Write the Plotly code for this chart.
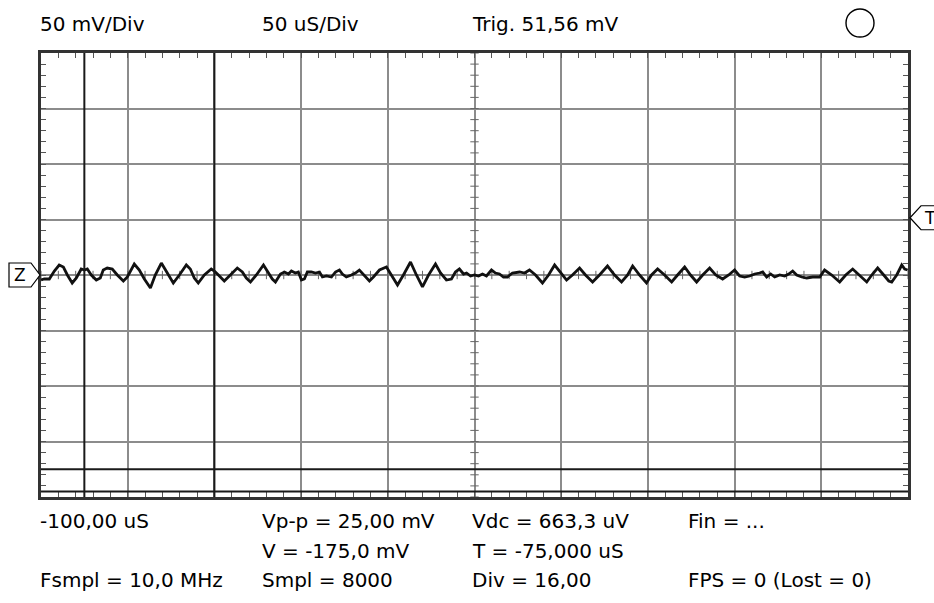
import plotly.graph_objects as go

# Captured waveform: time (µs, 0 = screen centre) and voltage (mV)
time_us = [
    -250.0, -248.1, -245.2, -242.3, -239.5, -237.1, -234.8, -232.0, -229.6, -226.8,
    -225.0, -223.3, -221.0, -218.1, -215.8, -214.1, -211.8, -208.9, -206.0, -202.5,
    -200.2, -196.2, -193.3, -190.4, -186.9, -184.1, -180.6, -177.7, -173.7, -170.2,
    -166.2, -163.9, -161.6, -159.3, -155.8, -151.8, -150.0, -147.7, -144.3, -140.8,
    -136.8, -133.9, -131.6, -129.2, -125.8, -121.7, -119.4, -116.6, -114.8, -111.9,
    -109.6, -107.3, -105.6, -103.3, -101.6, -99.8, -98.1, -96.4, -94.1, -91.7,
    -89.4, -87.7, -85.4, -82.5, -80.2, -77.9, -76.2, -73.9, -71.0, -68.7,
    -66.4, -64.0, -60.6, -58.3, -54.8, -50.8, -47.9, -44.4, -41.0, -36.9,
    -33.5, -30.0, -26.5, -22.5, -19.6, -16.2, -13.3, -11.0, -8.7, -6.3,
    -4.6, -2.3, 0.0, 2.3, 4.6, 6.9, 9.8, 12.1, 14.4, 16.7,
    19.0, 21.9, 26.0, 28.9, 31.7, 35.2, 39.2, 42.7, 46.2, 49.6,
    53.1, 56.5, 60.6, 64.0, 68.1, 72.1, 76.7, 80.8, 84.8, 88.3,
    91.2, 95.2, 99.2, 102.1, 105.6, 109.6, 113.7, 117.1, 121.2, 124.6,
    128.1, 131.6, 135.6, 139.1, 143.1, 146.6, 150.0, 152.9, 155.8, 158.7,
    161.6, 164.4, 166.2, 168.5, 170.8, 173.1, 176.0, 178.9, 181.2, 183.5,
    185.8, 188.7, 191.6, 195.0, 199.1, 201.9, 206.0, 210.6, 214.1, 218.1,
    222.1, 226.2, 229.1, 232.5, 236.0, 238.9, 240.6, 243.5, 246.4, 248.1,
    249.8,
]
volt_mv = [
    -4.5, -3.6, -3.6, 3.6, 9.0, 7.2, 0.0, -7.2, -2.7, 5.4,
    4.5, 5.4, 0.0, -4.5, -2.7, 4.5, 6.3, 5.4, 0.0, -5.4,
    -1.8, 9.9, 4.5, -3.6, -11.7, 0.0, 10.8, 3.6, -7.2, 0.0,
    9.0, 5.4, -2.7, -7.2, 0.0, 5.4, 3.6, 0.0, -5.4, 0.0,
    6.3, 2.7, -2.7, -6.3, 0.0, 9.0, 3.6, -3.6, -6.3, 0.9,
    2.7, 0.9, 3.6, 1.8, 2.7, -4.5, -3.6, 2.7, 2.7, 1.8,
    2.7, -1.8, -0.9, -1.8, 2.7, 4.5, 0.9, -1.8, 0.0, 1.8,
    4.5, 0.0, -5.4, -1.8, 4.5, 7.2, 0.0, -9.0, 0.0, 11.7,
    0.0, -10.8, 0.0, 9.9, 1.8, -4.5, -3.6, 2.7, 5.4, 0.9,
    1.8, -0.9, 0.0, -0.9, 0.9, -0.9, 4.5, 1.8, 0.9, -1.8,
    -1.8, 1.8, 2.7, 1.8, 4.5, 0.0, -7.2, 0.0, 9.0, 2.7,
    -4.5, 0.0, 6.3, 0.0, -6.3, 0.0, 8.1, 0.0, -6.3, 0.0,
    8.1, 0.0, -7.2, 0.0, 5.4, 0.0, -6.3, 0.0, 7.2, 0.0,
    -6.3, 0.0, 6.3, 0.0, -3.6, 0.0, 4.5, -0.9, -1.8, -0.9,
    0.9, 1.8, 2.7, -1.8, 0.9, -1.8, 0.0, -0.9, 0.9, 3.6,
    0.0, -1.8, -2.7, -1.8, -1.8, 4.5, 0.0, -6.3, 0.0, 5.4,
    0.0, -6.3, 0.0, 6.3, 0.0, -5.4, -6.3, 0.0, 9.0, 5.4,
    4.5,
]

# Screen settings
time_range = [-250, 250]      # 10 div x 50 µs
volt_range = [-200, 200]      # 8 div x 50 mV
trigger_mv = 51.56
ground_mv = 0.0
cursor_t_us = [-225.0, -150.0]
cursor_v_mv = [-175.0, -195.0]

header_labels = ["50 mV/Div", "50 uS/Div", "Trig. 51,56 mV"]
readout_rows = [
    ["-100,00 uS", "Vp-p = 25,00 mV", "Vdc = 663,3 uV", "Fin = ..."],
    ["", "V = -175,0 mV", "T = -75,000 uS", ""],
    ["Fsmpl = 10,0 MHz", "Smpl = 8000", "Div = 16,00", "FPS = 0 (Lost = 0)"],
]

W, H = 934, 603
ML, MR, MT, MB = 41, 26, 53, 106
PW, PH = W - ML - MR, H - MT - MB
FONT = "DejaVu Sans"
GRID = "#8c8c8c"
FRAME = "#333333"
CURSOR = "#1a1a1a"


def px_x(px):
    return (px - ML) / PW


def px_y(py):
    return (H - MB - py) / PH


fig = go.Figure()

# graticule centre-line ticks (one per minor division)
minor_t = [time_range[0] + 10 * i for i in range(51)]
minor_v = [volt_range[0] + 10 * i for i in range(41)]
fig.add_trace(go.Scatter(
    x=minor_t, y=[0] * len(minor_t), mode="markers", hoverinfo="skip",
    marker=dict(symbol="line-ns", size=6, line=dict(color="#666", width=1)),
))
fig.add_trace(go.Scatter(
    x=[0] * len(minor_v), y=minor_v, mode="markers", hoverinfo="skip",
    marker=dict(symbol="line-ew", size=6, line=dict(color="#666", width=1)),
))

# the trace itself
fig.add_trace(go.Scatter(
    x=time_us, y=volt_mv, mode="lines", hoverinfo="skip",
    line=dict(color="#111111", width=2.8),
))

axis_common = dict(
    showgrid=True, gridcolor=GRID, gridwidth=2, zeroline=False,
    showticklabels=False, ticks="inside", ticklen=5, tickcolor="#555",
    showline=True, linecolor=FRAME, linewidth=3, mirror="ticks",
    fixedrange=True,
)
fig.update_xaxes(range=time_range, tick0=0, dtick=50,
                 minor=dict(dtick=10, ticks="inside", ticklen=5,
                            tickcolor="#555", showgrid=False),
                 **axis_common)
fig.update_yaxes(range=volt_range, tick0=0, dtick=50,
                 minor=dict(dtick=10, ticks="inside", ticklen=5,
                            tickcolor="#555", showgrid=False),
                 **axis_common)

shapes = []
# time and voltage cursors
for t in cursor_t_us:
    shapes.append(dict(type="line", xref="x", yref="paper", x0=t, x1=t, y0=0, y1=1,
                       line=dict(color=CURSOR, width=2)))
for v in cursor_v_mv:
    shapes.append(dict(type="line", xref="paper", yref="y", x0=0, x1=1, y0=v, y1=v,
                       line=dict(color=CURSOR, width=2)))
# ground marker (left) and trigger marker (right)
shapes.append(dict(type="path", xref="paper", yref="y",
                   xsizemode="pixel", ysizemode="pixel", xanchor=0, yanchor=ground_mv,
                   path="M -32,-12 L -10,-12 L -1,0 L -10,12 L -32,12 Z",
                   line=dict(color="#000", width=1.2), fillcolor="white"))
shapes.append(dict(type="path", xref="paper", yref="y",
                   xsizemode="pixel", ysizemode="pixel", xanchor=1, yanchor=trigger_mv,
                   path="M 2,0 L 13,-12 L 40,-12 L 40,12 L 13,12 Z",
                   line=dict(color="#000", width=1.2), fillcolor="white"))
# run indicator
shapes.append(dict(type="circle", xref="paper", yref="paper",
                   x0=px_x(846), x1=px_x(874), y0=px_y(37), y1=px_y(9),
                   line=dict(color="#000", width=1.4), fillcolor="white"))

annotations = []


def label(text, px, py, size=20):
    annotations.append(dict(
        text=text, xref="paper", yref="paper", x=px_x(px), y=px_y(py),
        xanchor="left", yanchor="middle", showarrow=False, borderpad=0,
        font=dict(family=FONT, size=size, color="#000"),
    ))


cols = [39, 261, 471, 687]
for text, px in zip(header_labels, cols):
    label(text, px, 24)
for row, py in zip(readout_rows, [521, 551, 580]):
    for text, px in zip(row, cols):
        if text:
            label(text, px, py)

annotations.append(dict(text="Z", xref="paper", yref="y", x=0, y=ground_mv,
                        xshift=-21, showarrow=False, xanchor="center", yanchor="middle",
                        font=dict(family=FONT, size=17, color="#000")))
annotations.append(dict(text="T", xref="paper", yref="y", x=1, y=trigger_mv,
                        xshift=22, showarrow=False, xanchor="center", yanchor="middle",
                        font=dict(family=FONT, size=17, color="#000")))

fig.update_layout(
    width=W, height=H,
    margin=dict(l=ML, r=MR, t=MT, b=MB, pad=0),
    paper_bgcolor="white", plot_bgcolor="white",
    showlegend=False, shapes=shapes, annotations=annotations,
)

fig.write_html("out.html", config={"displayModeBar": False})
